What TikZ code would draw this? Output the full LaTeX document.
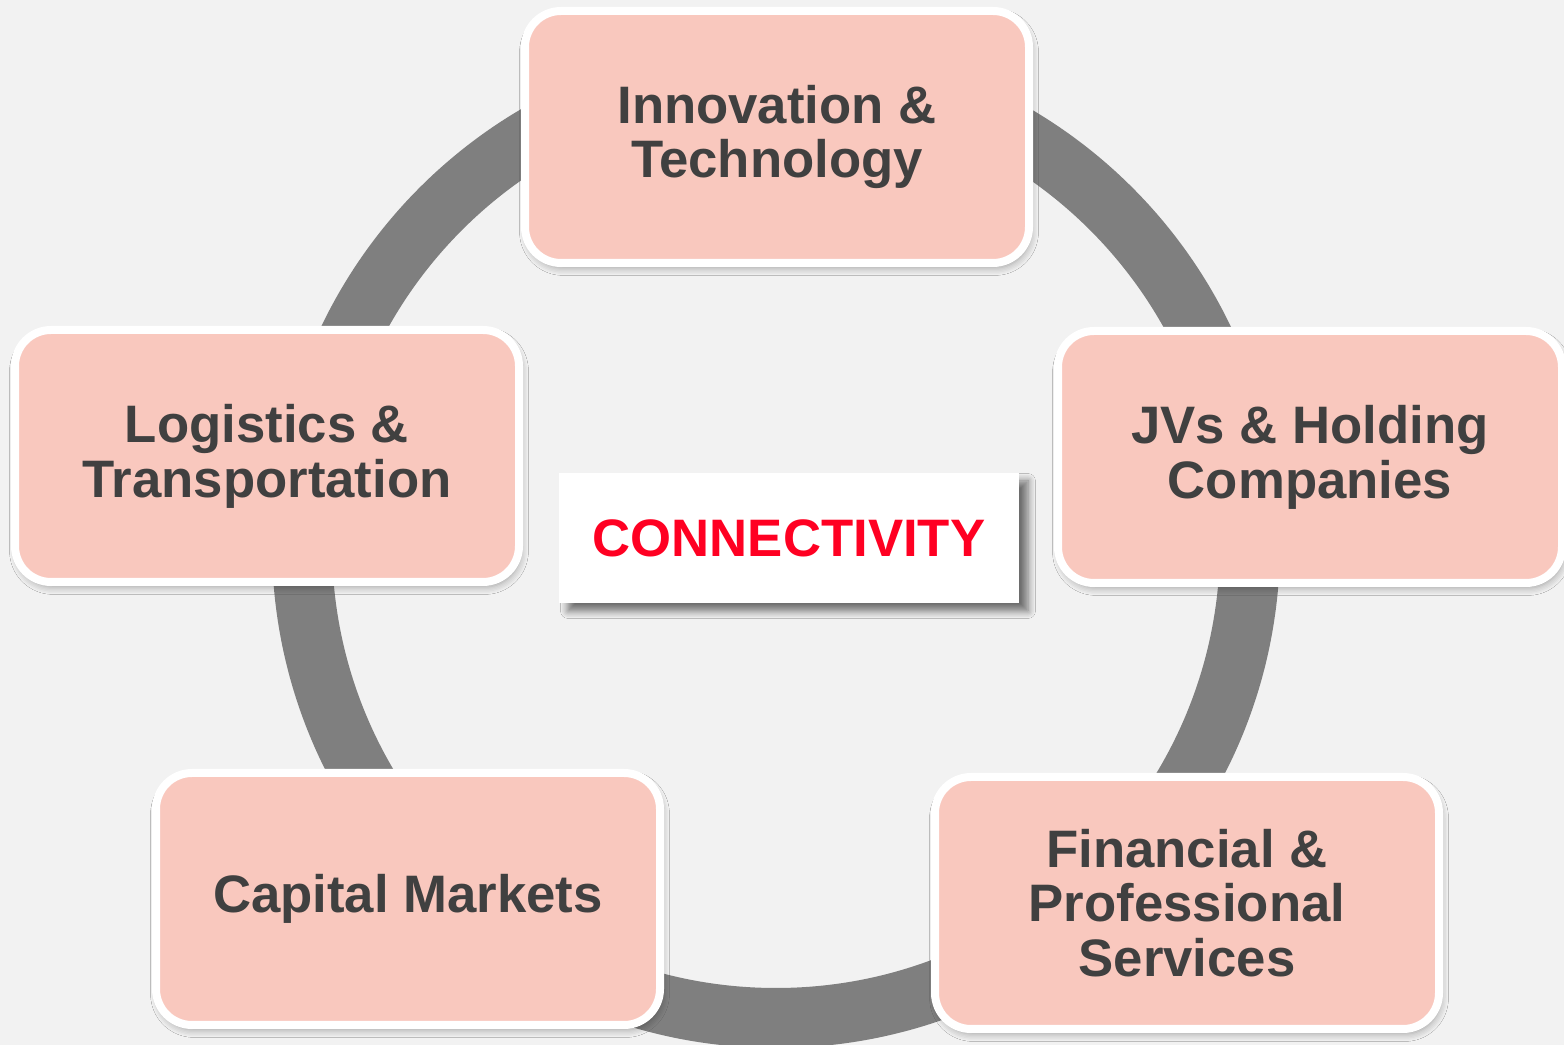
\documentclass[tikz,border=0pt]{standalone}
\usepackage{fontspec}
\setmainfont{Liberation Sans}
\usetikzlibrary{shadows.blur}
\definecolor{bggray}{HTML}{F2F2F2}
\definecolor{ringgray}{HTML}{7F7F7F}
\definecolor{boxpink}{HTML}{F9C8BE}
\definecolor{textgray}{HTML}{404040}
\definecolor{hotred}{HTML}{FF0022}
\tikzset{
  topic/.style={draw=white, line width=0.08cm, fill=boxpink, rounded corners=0.36cm,
    minimum width=5.04cm, minimum height=2.52cm, align=center, text=textgray,
    font=\fontsize{15}{15.6}\selectfont\bfseries,
    blur shadow={shadow xshift=0.02cm, shadow yshift=-0.05cm, shadow blur steps=6, shadow opacity=35}},
  hub/.style={fill=white, minimum width=4.6cm, minimum height=1.3cm, text=hotred,
    font=\fontsize{15}{15.6}\selectfont\bfseries,
    blur shadow={shadow xshift=0.09cm, shadow yshift=-0.08cm, shadow blur steps=6, shadow opacity=55}}
}
\begin{document}
\begin{tikzpicture}
        % 背景
        \fill[bggray] (0,0) rectangle (15.64,10.45);
        \useasboundingbox (0,0) rectangle (15.64,10.45);

        % 灰色のリング
        \coordinate (ring) at (7.76,5.01);
        \draw[ringgray, line width=0.6cm] (ring) circle (4.74);

        % 中央のラベル
        \node[hub] (connect) at (7.89,5.07) {CONNECTIVITY};

        % 周りの分野
        \node[topic] (innov) at (7.77,9.08) {Innovation \&\\Technology};
        \node[topic] (logist) at (2.67,5.89) {Logistics \&\\Transportation};
        \node[topic] (jvs) at (13.10,5.88) {JVs \& Holding\\Companies};
        \node[topic] (capital) at (4.08,1.46) {Capital Markets};
        \node[topic] (financ) at (11.87,1.42) {Financial \&\\Professional\\Services};
\end{tikzpicture}
\end{document}
